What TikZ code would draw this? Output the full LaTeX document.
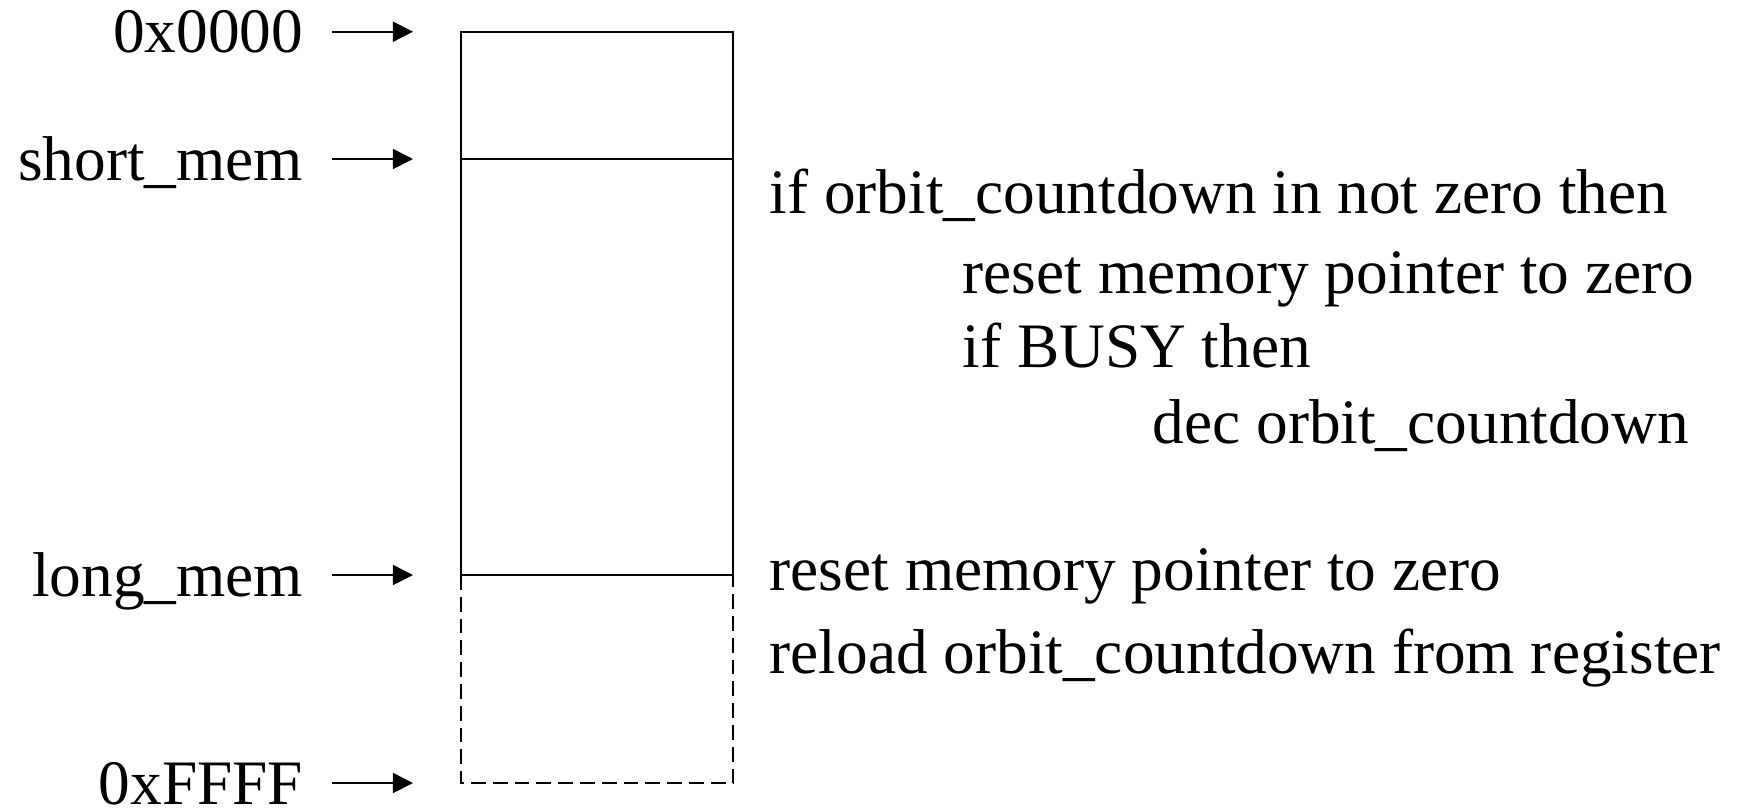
\documentclass[tikz,border=0pt]{standalone}
\usepackage{fontspec}
\setmainfont{Liberation Serif}
\usetikzlibrary{arrows.meta}
\tikzset{addr/.style={anchor=east,inner sep=0pt,outer xsep=0.29cm,
    text height=12.1pt,text depth=0pt,font=\fontsize{18}{21}\selectfont}}
\tikzset{code/.style={anchor=base west,inner sep=0pt,font=\fontsize{18}{21}\selectfont}}
\tikzset{ptr/.style={-{Triangle[length=0.2cm,width=0.2cm]},line width=0.45pt}}
\tikzset{cell/.style={line width=0.45pt}}
\tikzset{dcell/.style={line width=0.45pt,dash pattern=on 4.2pt off 2pt}}

\begin{document}
\begin{tikzpicture}[x=0.01cm,y=-0.01cm]
            \useasboundingbox (0,0) rectangle (1746,808);

            % memory map
            \coordinate (nw) at (461,31.7);
            \coordinate (ne) at (733,31.7);
            \coordinate (sw) at (461,159);
            \coordinate (se) at (733,159);
            \coordinate (lw) at (461,575);
            \coordinate (le) at (733,575);
            \coordinate (bw) at (461,783);
            \coordinate (be) at (733,783);

            \draw[cell] (lw) -- (nw) -- (ne) -- (le) -- cycle;
            \draw[cell] (sw) -- (se);
            \draw[dcell] (lw) -- (bw) -- (be) -- (le);

            % address labels
            \node[addr] (a0) at (332,31.7) {0x0000};
            \node[addr] (a1) at (332,159) {short\_mem};
            \node[addr] (a2) at (332,575) {long\_mem};
            \node[addr] (a3) at (332,783) {0xFFFF};

            \coordinate (t0) at (413,31.7);
            \coordinate (t1) at (413,159);
            \coordinate (t2) at (413,575);
            \coordinate (t3) at (413,783);

            \draw[ptr] (a0) -- (t0);
            \draw[ptr] (a1) -- (t1);
            \draw[ptr] (a2) -- (t2);
            \draw[ptr] (a3) -- (t3);

            % short_mem actions
            \node[code] (cond) at (769,213) {if orbit\_countdown in not zero then};
            \node[code] (rst1) at (962,293) {reset memory pointer to zero};
            \node[code] (busy) at (962,367) {if BUSY then};
            \node[code] (dec) at (1152,443) {dec orbit\_countdown};

            % long_mem actions
            \node[code] (rst2) at (769,590) {reset memory pointer to zero};
            \node[code] (rld) at (769,673) {reload orbit\_countdown from register};

        \end{tikzpicture}
\end{document}
